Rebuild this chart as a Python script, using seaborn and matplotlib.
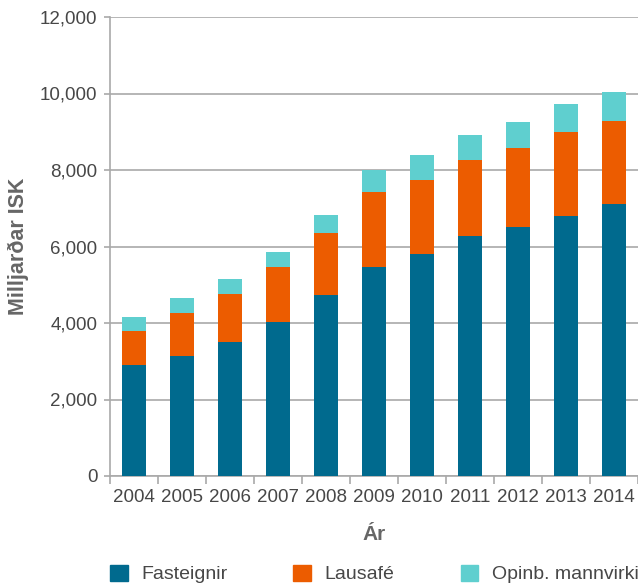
import pandas as pd
import matplotlib.pyplot as plt
import seaborn as sns
from matplotlib.patches import Patch
from matplotlib.ticker import FuncFormatter

# values (billions ISK)
years = ['2004', '2005', '2006', '2007', '2008', '2009', '2010', '2011', '2012', '2013', '2014']
fasteignir = [2895, 3130, 3505, 4025, 4725, 5455, 5795, 6275, 6500, 6800, 7110]
lausafe = [890, 1125, 1245, 1430, 1620, 1960, 1935, 1980, 2075, 2190, 2165]
opinb = [365, 390, 390, 395, 475, 580, 655, 655, 675, 735, 760]

blue = '#006a8e'
orange = '#ec5c00'
teal = '#5fcfcf'
grid_grey = '#a9a9a9'

df = pd.DataFrame({'year': years, 'Fasteignir': fasteignir,
                   'Lausafé': lausafe, 'Opinb. mannvirki': opinb})
# cumulative heights so the layers can be drawn on top of each other
df['l_top'] = df['Fasteignir'] + df['Lausafé']
df['o_top'] = df['l_top'] + df['Opinb. mannvirki']

sns.set_style('white')
plt.rcParams['font.family'] = ['Liberation Sans', 'DejaVu Sans']

fig = plt.figure(figsize=(6.38, 5.85), dpi=100)
ax = fig.add_axes([110 / 638, 1 - 476 / 585, 528 / 638, 459 / 585])

bar_kw = dict(width=0.5, saturation=1, linewidth=0, ax=ax, zorder=3)
sns.barplot(data=df, x='year', y='o_top', color=teal, **bar_kw)
sns.barplot(data=df, x='year', y='l_top', color=orange, **bar_kw)
sns.barplot(data=df, x='year', y='Fasteignir', color=blue, **bar_kw)

ax.set_ylim(0, 12000)
ax.set_xlim(-0.5, len(years) - 0.5)
ax.set_yticks(range(0, 12001, 2000))
ax.yaxis.set_major_formatter(FuncFormatter(lambda v, p: f'{int(v):,}'))
ax.yaxis.grid(True, color=grid_grey, lw=1.2, zorder=0)
ax.set_axisbelow(True)

for s in ['top', 'right']:
    ax.spines[s].set_visible(False)
for s in ['left', 'bottom']:
    ax.spines[s].set_color(grid_grey)
    ax.spines[s].set_linewidth(1.2)

txt = '#474747'
ax.tick_params(axis='y', left=True, length=4, width=1.2, color=grid_grey,
               labelsize=13.5, labelcolor=txt, pad=5)
# year labels centred under bars, tick marks between bars
ax.tick_params(axis='x', which='major', length=0, labelsize=13.5, labelcolor=txt, pad=9)
ax.set_xticks([i - 0.5 for i in range(len(years) + 1)], minor=True)
ax.tick_params(axis='x', which='minor', bottom=True, length=6, width=1.2, color=grid_grey)

ax.set_xlabel('Ár', fontsize=15, fontweight='bold', color='#666666')
ax.set_ylabel('Milljarðar ISK', fontsize=15.5, fontweight='bold', color='#666666')
ax.xaxis.set_label_coords(0.5, -0.1285)
ax.xaxis.label.set_va('center')
ax.yaxis.set_label_coords(-0.174, 0.5)
ax.yaxis.label.set_va('center')

handles = [Patch(color=blue, label='Fasteignir'),
           Patch(color=orange, label='Lausafé'),
           Patch(color=teal, label='Opinb. mannvirki')]
fig.legend(handles=handles, loc='center left', bbox_to_anchor=(110 / 638, 1 - 574 / 585),
           ncol=3, frameon=False, fontsize=14, handlelength=0.9, handleheight=0.9,
           handletextpad=0.7, columnspacing=3.4, borderpad=0, borderaxespad=0,
           labelcolor=txt)

plt.savefig('out.png', dpi=100)
